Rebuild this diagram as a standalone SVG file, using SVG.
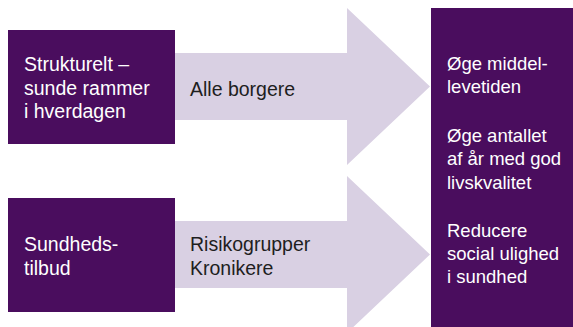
<svg xmlns="http://www.w3.org/2000/svg" width="573" height="327" viewBox="0 0 573 327">
  <style>
    .dark { fill: #4a0d5e; }
    .light { fill: #d9d0e3; }
    .wt { fill: #ffffff; font-family: "Liberation Sans", Arial, sans-serif; font-size: 19.5px; }
    .wr { fill: #ffffff; font-family: "Liberation Sans", Arial, sans-serif; font-size: 18.5px; }
    .bt { fill: #1e1e1e; font-family: "Liberation Sans", Arial, sans-serif; font-size: 19.5px; }
  </style>
  <rect width="573" height="327" fill="#ffffff"/>
  <g id="connectors">
    <g id="arrow-alle">
      <polygon class="light" points="175,53 347,53 347,8 430,86.5 347,165 347,120 175,120"/>
      <text class="bt" x="190" y="96">Alle borgere</text>
    </g>
    <g id="arrow-risiko">
      <polygon class="light" points="175,221 347,221 347,176 430,254.5 347,333 347,288 175,288"/>
      <text class="bt" x="190" y="251">Risikogrupper</text>
      <text class="bt" x="190" y="275">Kronikere</text>
    </g>
  </g>
  <g id="node-strukturelt">
    <rect class="dark" x="8" y="30" width="167" height="114"/>
    <text class="wt" x="24" y="71">Strukturelt –</text>
    <text class="wt" x="24" y="95">sunde rammer</text>
    <text class="wt" x="24" y="118">i hverdagen</text>
  </g>
  <g id="node-sundhedstilbud">
    <rect class="dark" x="8" y="198" width="167" height="114"/>
    <text class="wt" x="24" y="251">Sundheds-</text>
    <text class="wt" x="24" y="275">tilbud</text>
  </g>
  <g id="node-maal">
    <rect class="dark" x="431" y="8" width="142" height="319"/>
    <text class="wr" x="447" y="70">Øge middel-</text>
    <text class="wr" x="447" y="93">levetiden</text>
    <text class="wr" x="447" y="142">Øge antallet</text>
    <text class="wr" x="447" y="165">af år med god</text>
    <text class="wr" x="447" y="189">livskvalitet</text>
    <text class="wr" x="447" y="237">Reducere</text>
    <text class="wr" x="447" y="260">social ulighed</text>
    <text class="wr" x="447" y="283">i sundhed</text>
  </g>
</svg>
